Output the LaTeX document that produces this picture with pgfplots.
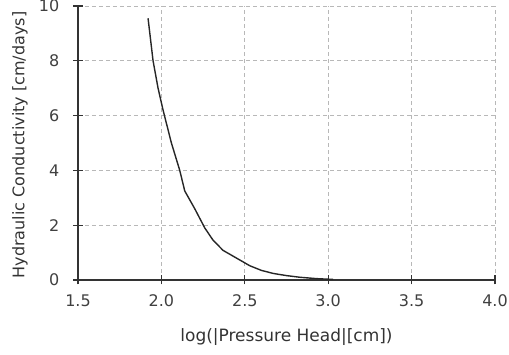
\documentclass[border=0pt]{standalone}
\usepackage{pgfplots}
\pgfplotsset{compat=1.18}
\usepackage{fontspec}
\setmainfont{DejaVu Sans}
\begin{document}
\begin{tikzpicture}
\useasboundingbox (-78pt,-75pt) rectangle (431pt,280pt);
\begin{axis}[
  at={(0pt,0pt)}, anchor=south west,
  scale only axis, width=417pt, height=274pt,
  xmin=1.5, xmax=4.0, ymin=0, ymax=10,
  axis lines=left,
  axis line style={-, black!80, line width=1.2pt},
  xtick={1.5,2.0,2.5,3.0,3.5,4.0},
  ytick={0,2,4,6,8,10},
  font=\fontsize{16}{19}\selectfont,
  /pgf/number format/assume math mode=true,
  xticklabel style={/pgf/number format/.cd, fixed, fixed zerofill, precision=1, /tikz/.cd, anchor=center, yshift=-16.5pt, text=black!75},
  yticklabel style={anchor=east, xshift=-10.7pt, text=black!75},
  tick style={black!80, line width=1.2pt},
  major tick length=9pt,
  tick align=center,
  grid=major,
  major grid style={black!28, dash pattern=on 4pt off 3pt, line width=0.8pt},
  xlabel={\fontsize{17}{20}\selectfont log(|Pressure Head|[cm])},
  ylabel={Hydraulic Conductivity [cm/days]},
  every axis x label/.style={at={(axis description cs:0.5,0)}, yshift=-57pt, anchor=center, text=black!80},
  every axis y label/.style={at={(axis description cs:0,0.5)}, xshift=-58pt, yshift=-2pt, rotate=90, anchor=center, text=black!80},
]
\addplot[black!85, line width=1.4pt] coordinates {
(1.92,9.55) (1.95,8.0) (1.98,7.0) (2.01,6.2) (2.06,5.0) (2.11,4.0) (2.14,3.25)
(2.20,2.6) (2.26,1.9) (2.31,1.45) (2.37,1.08) (2.45,0.80) (2.53,0.52)
(2.60,0.35) (2.67,0.24) (2.75,0.16) (2.83,0.10) (2.93,0.05) (3.03,0.02)
};
\end{axis}
\end{tikzpicture}
\end{document}
